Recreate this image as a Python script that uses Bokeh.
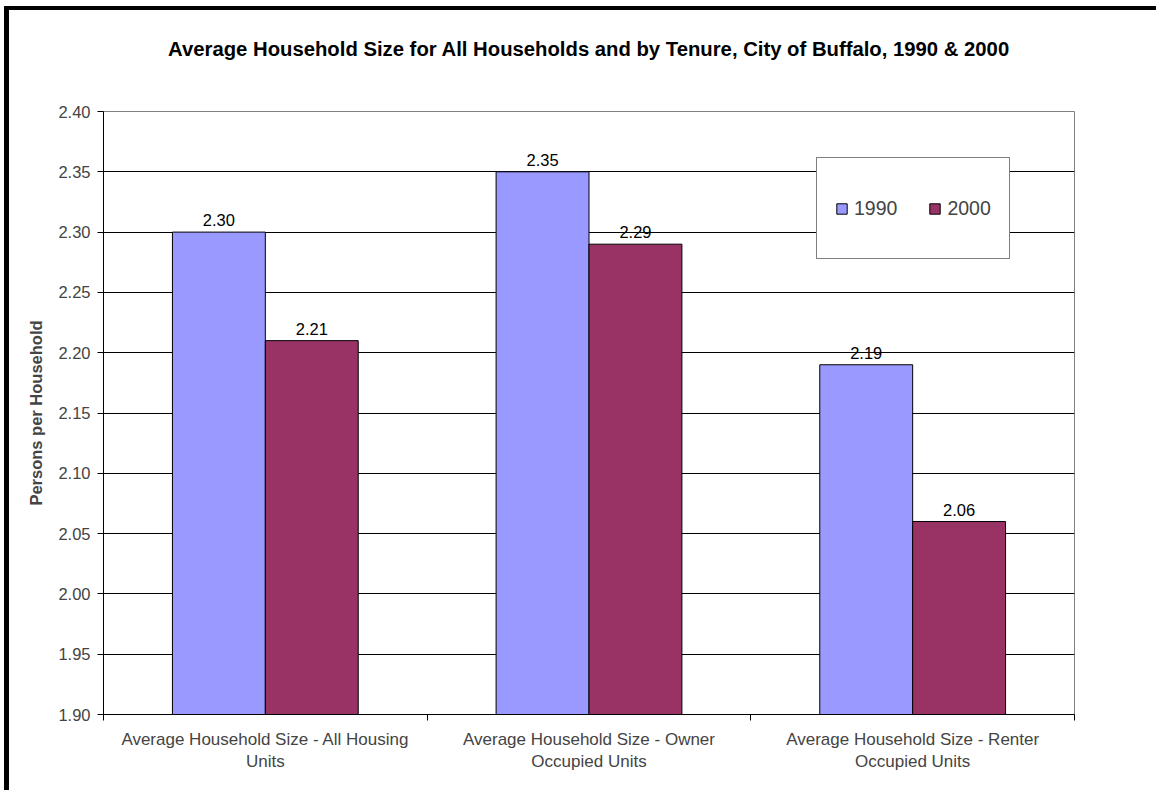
import numpy as np
from bokeh.plotting import figure
from bokeh.layouts import column
from bokeh.models import (Range1d, LinearAxis, FixedTicker, NumeralTickFormatter,
                          Legend, LegendItem, Grid, ColumnDataSource)
from bokeh.core.properties import value
from bokeh.embed import file_html
from bokeh.resources import INLINE

# --- data -------------------------------------------------------------
categories = [
    "Average Household Size - All Housing\nUnits",
    "Average Household Size - Owner\nOccupied Units",
    "Average Household Size - Renter\nOccupied Units",
]
years = ["1990", "2000"]
size_1990 = [2.30, 2.35, 2.19]
size_2000 = [2.21, 2.29, 2.06]
y_ticks = [1.90, 1.95, 2.00, 2.05, 2.10, 2.15, 2.20, 2.25, 2.30, 2.35, 2.40]
colors = ["#9999FF", "#993366"]

title_text = ("Average Household Size for All Households and by Tenure, "
              "City of Buffalo, 1990 & 2000")
y_label = "Persons per Household"

# --- styling ----------------------------------------------------------
FONT = "Liberation Sans"
BAR_W = 0.287
Y_MIN, Y_MAX = y_ticks[0], y_ticks[-1]

fig = figure(width=1147, height=780, output_backend="svg", toolbar_location=None,
             x_range=Range1d(0, len(categories)), y_range=Range1d(Y_MIN, Y_MAX),
             x_axis_type=None, y_axis_type=None,
             min_border_left=94, min_border_right=82,
             min_border_top=101, min_border_bottom=76)
fig.title = None
fig.outline_line_color = "#808080"
fig.outline_line_width = 1
fig.background_fill_color = "white"
fig.border_fill_color = "white"

# chart heading, carried by a bare axis above the plot area
head = LinearAxis(ticker=FixedTicker(ticks=[]))
head.axis_label = title_text
head.axis_label_text_font = FONT
head.axis_label_text_font_style = "bold"
head.axis_label_text_font_size = "20.3px"
head.axis_label_text_color = "black"
head.axis_label_standoff = 52
head.axis_line_color = None
head.major_tick_line_color = None
head.minor_tick_line_color = None
head.major_tick_out = 0
head.major_tick_in = 0
head.minor_tick_out = 0
head.minor_tick_in = 0
head.major_label_standoff = 0
fig.add_layout(head, "above")

# y axis
yaxis = LinearAxis(ticker=FixedTicker(ticks=y_ticks),
                   formatter=NumeralTickFormatter(format="0.00"))
yaxis.axis_label = y_label
yaxis.axis_label_text_font = FONT
yaxis.axis_label_text_font_style = "bold"
yaxis.axis_label_text_font_size = "16.5px"
yaxis.axis_label_standoff = 10
yaxis.major_label_text_font = FONT
yaxis.major_label_text_font_size = "16.5px"
yaxis.major_label_standoff = 7
yaxis.major_tick_out = 6
yaxis.major_tick_in = 0
yaxis.axis_line_color = "black"
fig.add_layout(yaxis, "left")

# x axis: labels at category centres, boundary ticks as minor ticks
centers = list(np.arange(len(categories)) + 0.5)
bounds = list(range(len(categories) + 1))
xaxis = LinearAxis(ticker=FixedTicker(ticks=centers, minor_ticks=bounds))
xaxis.major_label_overrides = {c: lab for c, lab in zip(centers, categories)}
xaxis.major_label_text_font = FONT
xaxis.major_label_text_font_size = "17px"
xaxis.major_label_standoff = 9
xaxis.major_tick_line_color = None
xaxis.major_tick_out = 0
xaxis.major_tick_in = 0
xaxis.minor_tick_out = 6
xaxis.minor_tick_in = 0
xaxis.minor_tick_line_color = "black"
xaxis.axis_line_color = "black"
fig.add_layout(xaxis, "below")

fig.add_layout(Grid(dimension=1, ticker=yaxis.ticker, grid_line_color="black"))

# bars
src = ColumnDataSource(dict(
    x1=[c - BAR_W / 2 for c in centers],
    x2=[c + BAR_W / 2 for c in centers],
    v1=size_1990, v2=size_2000,
    t1=[f"{v:.2f}" for v in size_1990],
    t2=[f"{v:.2f}" for v in size_2000],
))
r1 = fig.vbar(x="x1", top="v1", bottom=Y_MIN, width=BAR_W, source=src,
              fill_color=colors[0], line_color="black", line_width=1)
r2 = fig.vbar(x="x2", top="v2", bottom=Y_MIN, width=BAR_W, source=src,
              fill_color=colors[1], line_color="black", line_width=1)

# value labels above the bars
for xcol, tcol, vcol in (("x1", "t1", "v1"), ("x2", "t2", "v2")):
    fig.text(x=xcol, y=vcol, text=tcol, source=src, text_align="center",
             text_baseline="alphabetic", y_offset=-12,
             text_font=value(FONT), text_font_size="16.5px", text_color="black")

# legend
legend = Legend(items=[LegendItem(label=years[0], renderers=[r1]),
                       LegendItem(label=years[1], renderers=[r2])],
                orientation="horizontal", location=(713, 455), margin=0,
                padding=18, spacing=31, label_standoff=6,
                glyph_width=13, glyph_height=13, label_height=64,
                label_text_font=FONT, label_text_font_size="19.5px",
                border_line_color="black", border_line_width=1,
                background_fill_color="white", background_fill_alpha=1)
fig.add_layout(legend)

# page container with the heavy frame along the left and top edges
p = column(fig, spacing=0,
           styles={"position": "absolute", "left": "9px", "top": "10px",
                   "box-shadow": "-5px 0 0 0 black, 0 -4px 0 0 black, "
                                 "-5px -4px 0 0 black"})

open("out.html", "w").write(file_html(p, INLINE))
